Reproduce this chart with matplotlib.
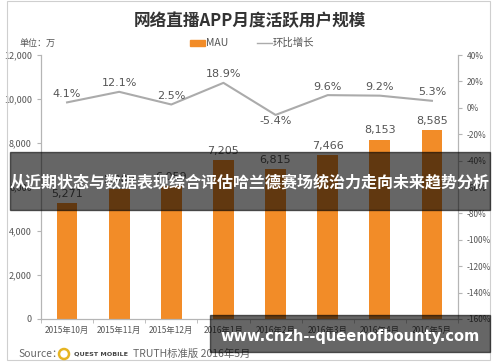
import numpy as np
import matplotlib
matplotlib.use("Agg")
import matplotlib.pyplot as plt
from matplotlib.patches import Rectangle, Ellipse
from matplotlib.lines import Line2D

plt.rcParams['font.family'] = ['Noto Sans CJK SC', 'DejaVu Sans']

# data
months = ["2015年10月", "2015年11月", "2015年12月", "2016年1月",
          "2016年2月", "2016年3月", "2016年4月", "2016年5月"]
mau = [5271, 5909, 6059, 7205, 6815, 7466, 8153, 8585]
growth = [4.1, 12.1, 2.5, 18.9, -5.4, 9.6, 9.2, 5.3]
left_ticks = [0, 2000, 4000, 6000, 8000, 10000, 12000]
right_ticks = [-160, -140, -120, -100, -80, -60, -40, -20, 0, 20, 40]

orange = "#F28C28"
gray_line = "#ababab"
axis_col = "#b5b5b5"
txt_col = "#555555"

fig = plt.figure(figsize=(5, 3.62), dpi=100)
W, H = 500, 362

def fx(px):
    return px / W

def fy(py):
    return 1 - py / H

# outer frame
fig.patches.append(Rectangle((fx(7), fy(360)), fx(490) - fx(7), fy(1) - fy(360),
                             transform=fig.transFigure, fill=False,
                             edgecolor="#cfcfcf", lw=0.8))

ax = fig.add_axes([fx(41), fy(319), fx(458) - fx(41), fy(55) - fy(319)])
ax2 = ax.twinx()

x = np.arange(len(months))
bars = ax.bar(x, mau, width=0.4, color=orange, zorder=2)
ax.set_xlim(-0.5, len(months) - 0.5)
ax.set_ylim(0, 12000)
ax.set_yticks(left_ticks)
ax.set_yticklabels([f"{v:,}" for v in left_ticks])
ax.set_xticks(x)
ax.set_xticklabels(months)
ax.set_xticks(np.arange(-0.5, len(months), 1), minor=True)
ax.tick_params(axis='x', which='major', length=0, labelsize=6, colors=txt_col, pad=5)
ax.tick_params(axis='x', which='minor', length=3, color=axis_col)
ax.tick_params(axis='y', labelsize=6.5, colors=txt_col, length=3, color=axis_col)
for v, b in zip(mau, bars):
    ax.annotate(f"{v:,}", (b.get_x() + b.get_width() / 2, v), xytext=(0, 3),
                textcoords="offset points", ha="center", va="bottom",
                fontsize=8, color="#555555", family="DejaVu Sans")

ax2.plot(x, growth, color=gray_line, lw=1.5, zorder=3)
ax2.set_ylim(-160, 40)
ax2.set_yticks(right_ticks)
ax2.set_yticklabels([f"{v}%" for v in right_ticks])
ax2.tick_params(axis='y', labelsize=6, colors=txt_col, length=3, color=axis_col)
for xi, g in zip(x, growth):
    off = -1 if g < 0 else 2.5
    ax2.annotate(f"{g}%", (xi, g), xytext=(0, off), textcoords="offset points",
                 ha="center", va="top" if g < 0 else "bottom",
                 fontsize=8, color="#555555", family="DejaVu Sans")

for a in (ax, ax2):
    a.spines['top'].set_visible(False)
    for s in ('left', 'right', 'bottom'):
        a.spines[s].set_color(axis_col)
        a.spines[s].set_linewidth(0.8)
    a.set_facecolor("none")

# title, unit, legend
fig.text(0.5, fy(21), "网络直播APP月度活跃用户规模", ha="center", va="center",
         fontsize=12, fontweight="bold", color="#333333")
fig.text(fx(20), fy(43), "单位：万", ha="left", va="center", fontsize=6.5, color=txt_col)
fig.patches.append(Rectangle((fx(190), fy(45.5)), fx(15), 5 / H,
                             transform=fig.transFigure, color=orange))
fig.text(fx(206), fy(43), "MAU", ha="left", va="center", fontsize=7.5, color=txt_col)
fig.lines.append(Line2D([fx(257), fx(272)], [fy(43), fy(43)],
                        transform=fig.transFigure, color=gray_line, lw=1))
fig.text(fx(273), fy(43), "环比增长", ha="left", va="center", fontsize=7.5, color=txt_col)

# source line
fig.text(fx(18), fy(354), "Source：", ha="left", va="center", fontsize=7.5, color="#666666")
fig.patches.append(Ellipse((fx(64), fy(354)), 10 / W, 10 / H, transform=fig.transFigure,
                           fill=False, edgecolor="#e6b422", lw=1.8))
fig.text(fx(74), fy(354), "QUEST MOBILE", ha="left", va="center", fontsize=4.6,
         fontweight="bold", color="#444444", family="DejaVu Sans")
fig.text(fx(133), fy(354), "TRUTH标准版 2016年5月", ha="left", va="center",
         fontsize=7.5, color="#666666")

# dark overlay bands
fig.patches.append(Rectangle((fx(10), fy(210)), fx(490) - fx(10), fy(152) - fy(210),
                             transform=fig.transFigure, color="black", alpha=0.6, zorder=10))
fig.text(0.5, fy(183), "从近期状态与数据表现综合评估哈兰德赛场统治力走向未来趋势分析",
         ha="center", va="center", fontsize=11.5, fontweight="bold", color="white", zorder=11)
fig.patches.append(Rectangle((fx(210), fy(352)), fx(490) - fx(210), fy(315) - fy(352),
                             transform=fig.transFigure, color="black", alpha=0.6, zorder=10))
fig.text(fx(350), fy(336), "www.cnzh--queenofbounty.com", ha="center", va="center",
         fontsize=10.5, fontweight="bold", color="white", zorder=11, family="DejaVu Sans")

fig.savefig("out.png", dpi=100)
